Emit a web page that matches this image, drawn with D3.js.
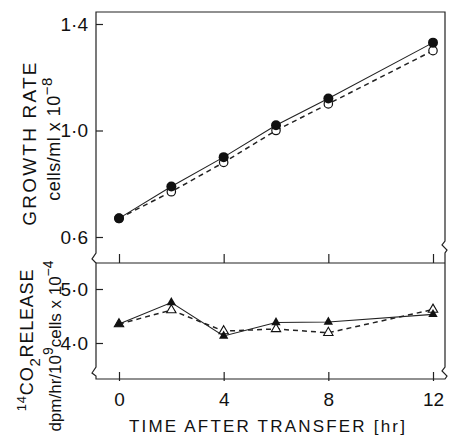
<!DOCTYPE html>
<html>
<head>
<meta charset="utf-8">
<script src="https://cdn.jsdelivr.net/npm/d3@7"></script>
<style>
  body { margin: 0; background: #fff; }
  text { font-family: "Liberation Sans", Arial, sans-serif; fill: #111; }
</style>
</head>
<body>
<div id="chart"></div>
<script>
// data
var hours = [0, 2, 4, 6, 8, 12];
var growthFilled = [0.67, 0.79, 0.90, 1.02, 1.12, 1.33];
var growthOpen = [0.67, 0.77, 0.88, 1.00, 1.10, 1.30];
var co2Filled = [4.35, 4.75, 4.13, 4.38, 4.39, 4.53];
var co2Open = [4.35, 4.61, 4.22, 4.26, 4.19, 4.62];
var xTicks = [0, 4, 8, 12];
var growthTicks = [0.6, 1.0, 1.4];
var co2Ticks = [4.0, 5.0];

var W = 450, H = 437;
var plotL = 96, plotR = 445, plotT = 12, plotMid = 263, plotB = 381;

var svg = d3.select('#chart').append('svg').attr('width', W).attr('height', H);

var x = d3.scaleLinear().domain([0, 12]).range([119, 433]);
var yTop = d3.scaleLinear().domain([0.6, 1.4]).range([237, 24]);
var yBot = d3.scaleLinear().domain([4.0, 5.0]).range([343, 289]);

var fmt = function(d) { return d3.format('.1f')(d).replace('.', '\u00b7'); };

// frame with axis breaks
var frame = 'M' + plotL + ',' + (plotMid - 16) + ' V' + plotT + ' H' + plotR + ' V' + (plotMid - 22) +
  ' l-3,4 l5,5 l-2,3 V' + (plotB - 14) + ' l-3,4 l5,5 l-2,3 H' + plotL +
  ' V' + (plotB - 5) + ' l-4,-3 l4,-6 V' + plotMid + ' l-4,-4 l4,-6 l0,-6';
svg.append('path').attr('d', frame).attr('fill', 'none').attr('stroke', '#222').attr('stroke-width', 1.2);
svg.append('line').attr('x1', plotL).attr('x2', plotR).attr('y1', plotMid).attr('y2', plotMid)
  .attr('stroke', '#222').attr('stroke-width', 1.2);

// axes
function styleAxis(g) {
  g.select('.domain').remove();
  g.selectAll('line').attr('stroke', '#222').attr('stroke-width', 1.2);
  g.selectAll('text').attr('font-size', 19).attr('fill', '#111');
}

svg.append('g').attr('transform', 'translate(' + plotL + ',0)')
  .call(d3.axisLeft(yTop).tickValues(growthTicks).tickFormat(fmt).tickSizeInner(-7).tickSizeOuter(0).tickPadding(8))
  .call(styleAxis);

svg.append('g').attr('transform', 'translate(' + plotL + ',0)')
  .call(d3.axisLeft(yBot).tickValues(co2Ticks).tickFormat(fmt).tickSizeInner(-7).tickSizeOuter(0).tickPadding(8))
  .call(styleAxis);

svg.append('g').attr('transform', 'translate(0,' + plotMid + ')')
  .call(d3.axisBottom(x).tickValues(xTicks).tickFormat('').tickSizeInner(-9).tickSizeOuter(0))
  .call(styleAxis);

svg.append('g').attr('transform', 'translate(0,' + plotB + ')')
  .call(d3.axisBottom(x).tickValues(xTicks).tickSizeInner(-9).tickSizeOuter(0).tickPadding(7))
  .call(styleAxis)
  .selectAll('text').attr('dy', '0.95em').attr('font-size', 19);

// lines
function drawLine(ys, yScale, dashed) {
  var line = d3.line().x(function(d, i) { return x(hours[i]); }).y(function(d) { return yScale(d); });
  svg.append('path').datum(ys).attr('d', line).attr('fill', 'none').attr('stroke', '#222')
    .attr('stroke-width', dashed ? 1.5 : 1.1).attr('stroke-dasharray', dashed ? '5,4' : null);
}
drawLine(growthOpen, yTop, true);
drawLine(growthFilled, yTop, false);
drawLine(co2Open, yBot, true);
drawLine(co2Filled, yBot, false);

// markers
svg.selectAll('.oc').data(growthOpen).enter().append('circle')
  .attr('cx', function(d, i) { return x(hours[i]); }).attr('cy', function(d) { return yTop(d); })
  .attr('r', 4.2).attr('fill', '#fff').attr('stroke', '#111').attr('stroke-width', 1.2);
svg.selectAll('.fc').data(growthFilled).enter().append('circle')
  .attr('cx', function(d, i) { return x(hours[i]); }).attr('cy', function(d) { return yTop(d); })
  .attr('r', 5).attr('fill', '#111');

var tri = d3.symbol().type(d3.symbolTriangle).size(38);
svg.selectAll('.ot').data(co2Open).enter().append('path')
  .attr('d', tri).attr('transform', function(d, i) { return 'translate(' + x(hours[i]) + ',' + yBot(d) + ')'; })
  .attr('fill', '#fff').attr('stroke', '#111').attr('stroke-width', 1.1);
svg.selectAll('.ft').data(co2Filled).enter().append('path')
  .attr('d', tri).attr('transform', function(d, i) { return 'translate(' + x(hours[i]) + ',' + yBot(d) + ')'; })
  .attr('fill', '#111');

// axis titles
var t1 = svg.append('g').attr('transform', 'translate(36,143) rotate(-90)');
t1.append('text').attr('text-anchor', 'middle').attr('font-size', 19).attr('letter-spacing', 2.2).text('GROWTH RATE');
var t2 = svg.append('g').attr('transform', 'translate(60,139) rotate(-90)');
var s2 = t2.append('text').attr('text-anchor', 'middle').attr('font-size', 18).attr('letter-spacing', 0.5);
s2.append('tspan').text('cells/ml  x  10');
s2.append('tspan').attr('dy', -8).attr('font-size', 15).text('\u22128');

var t3 = svg.append('g').attr('transform', 'translate(33,340) rotate(-90)');
var s3 = t3.append('text').attr('text-anchor', 'middle').attr('font-size', 18).attr('letter-spacing', 0.8);
s3.append('tspan').attr('dy', -7).attr('font-size', 13).text('14');
s3.append('tspan').attr('dy', 7).text('CO');
s3.append('tspan').attr('dy', 7).attr('font-size', 15).text('2');
s3.append('tspan').attr('dy', -7).text('RELEASE');

var t4 = svg.append('g').attr('transform', 'translate(61,346) rotate(-90)');
var s4 = t4.append('text').attr('text-anchor', 'middle').attr('font-size', 17);
s4.append('tspan').text('dpm/hr/10');
s4.append('tspan').attr('dy', -8).attr('font-size', 14).text('9');
s4.append('tspan').attr('dy', 8).text('cells x 10');
s4.append('tspan').attr('dy', -8).attr('font-size', 14).text('\u22124');

svg.append('text').attr('x', 268).attr('y', 432).attr('text-anchor', 'middle')
  .attr('font-size', 17).attr('letter-spacing', 2.2).text('TIME AFTER TRANSFER [hr]');
</script>
</body>
</html>
